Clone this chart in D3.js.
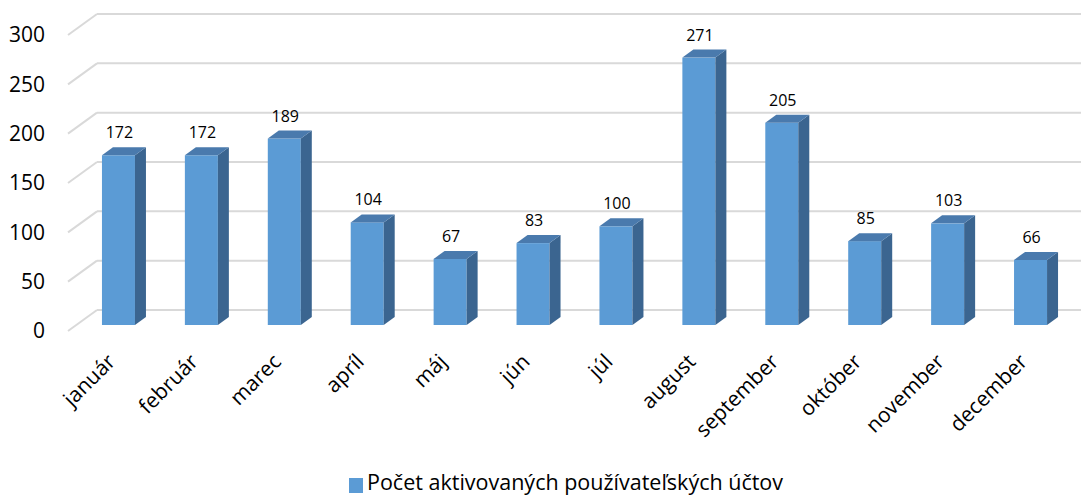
<!DOCTYPE html>
<html>
<head>
<meta charset="utf-8">
<script src="https://cdn.jsdelivr.net/npm/d3@7"></script>
<style>
  body { margin: 0; background: #fff; }
  svg text { font-family: "Open Sans", "Noto Sans", sans-serif; fill: #000; }
</style>
</head>
<body>
<svg id="chart" width="1081" height="495"></svg>
<script>
"use strict";

// data
const months = ["január", "február", "marec", "apríl", "máj", "jún", "júl", "august", "september", "október", "november", "december"];
const accounts = [172, 172, 189, 104, 67, 83, 100, 271, 205, 85, 103, 66];
const yTicks = [0, 50, 100, 150, 200, 250, 300];
const seriesName = "Počet aktivovaných používateľských účtov";

// 3d look: wall depth and bar depth offsets
const wallDx = -29, wallDy = 21;
const barDx = 11, barDy = -8;
const barShift = 15; // bar front sits this far below the back wall

const svg = d3.select("#chart");

const x = d3.scaleBand()
    .domain(months)
    .range([77, 1072])
    .paddingInner(0.602)
    .paddingOuter(0.301);

// y on the back wall
const y = d3.scaleLinear().domain([0, 300]).range([310, 14]);

// gridlines: back line + diagonal to the front
const grid = svg.append("g");
yTicks.forEach((t) => {
    grid.append("line")
        .attr("x1", 97).attr("x2", 1081)
        .attr("y1", y(t)).attr("y2", y(t))
        .attr("stroke", "#d9d9d9").attr("stroke-width", 2);
    grid.append("line")
        .attr("x1", 97).attr("y1", y(t))
        .attr("x2", 97 + wallDx).attr("y2", y(t) + wallDy)
        .attr("stroke", "#d9d9d9").attr("stroke-width", 2);
});

// y tick labels
svg.append("g").selectAll("text")
    .data(yTicks)
    .join("text")
    .attr("x", 45)
    .attr("y", (d) => y(d) + wallDy)
    .attr("dy", "0.35em")
    .attr("text-anchor", "end")
    .style("font-size", "21px")
    .text((d) => d);

// bars
const bars = svg.append("g").selectAll("g")
    .data(months.map((m, i) => ({ m, v: accounts[i] })))
    .join("g");

const w = x.bandwidth();
const yb = y(0) + barShift;
const yt = (d) => y(d.v) + barShift;

bars.append("rect")
    .attr("x", (d) => x(d.m))
    .attr("y", (d) => yt(d))
    .attr("width", w)
    .attr("height", (d) => yb - yt(d))
    .attr("fill", "#5b9bd5");

bars.append("path")
    .attr("fill", "#3b6590")
    .attr("d", (d) => {
        const x0 = x(d.m) + w;
        return `M${x0},${yt(d)}L${x0 + barDx},${yt(d) + barDy}L${x0 + barDx},${yb + barDy}L${x0},${yb}Z`;
    });

bars.append("path")
    .attr("fill", "#4a7aad")
    .attr("d", (d) => {
        const x0 = x(d.m);
        return `M${x0},${yt(d)}L${x0 + w},${yt(d)}L${x0 + w + barDx},${yt(d) + barDy}L${x0 + barDx},${yt(d) + barDy}Z`;
    });

// value labels
bars.append("text")
    .attr("x", (d) => x(d.m) + w / 2 + 1)
    .attr("y", (d) => yt(d) - 17)
    .attr("text-anchor", "middle")
    .style("font-size", "16px")
    .text((d) => d.v);

// category labels
svg.append("g").selectAll("text")
    .data(months)
    .join("text")
    .attr("text-anchor", "end")
    .attr("transform", (d) => `translate(${x(d) + w / 2 - 2},363) rotate(-45)`)
    .style("font-size", "21px")
    .text((d) => d);

// legend
const legend = svg.append("g");
legend.append("rect")
    .attr("x", 349).attr("y", 478)
    .attr("width", 14).attr("height", 15)
    .attr("fill", "#5b9bd5");
legend.append("text")
    .attr("x", 367).attr("y", 490)
    .style("font-size", "21.5px")
    .text(seriesName);
</script>
</body>
</html>
